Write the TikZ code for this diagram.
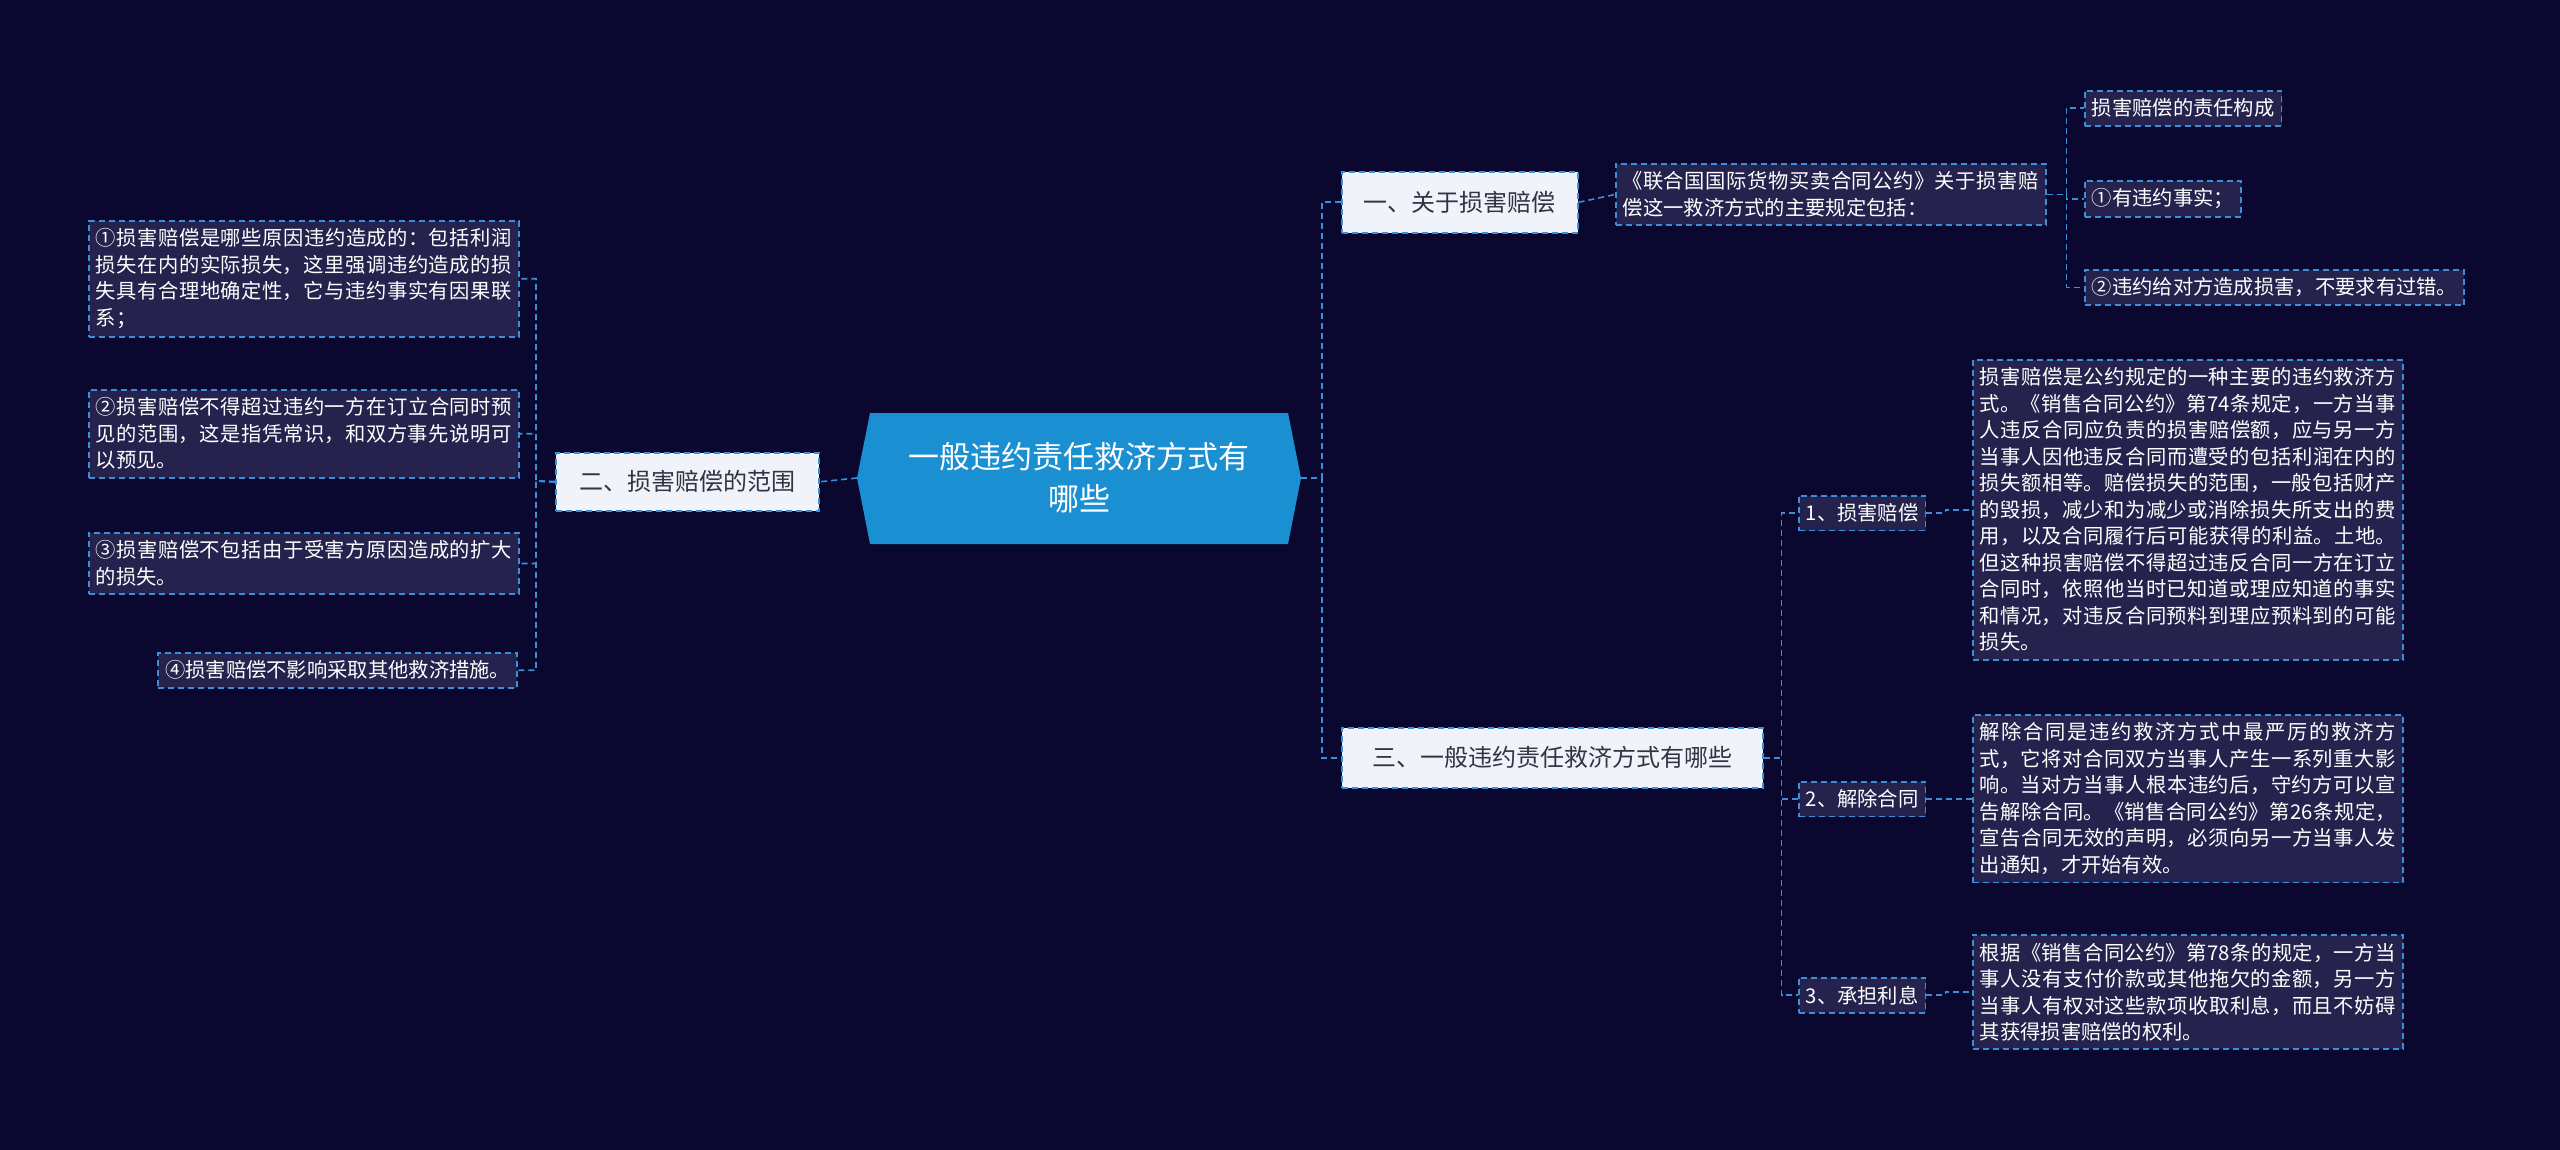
\documentclass[tikz,border=0pt]{standalone}
\usepackage{fontspec}
\setmainfont{Noto Sans CJK SC}
\XeTeXlinebreaklocale "zh"
\XeTeXlinebreakskip=0pt plus 1pt
\begin{document}
\begin{tikzpicture}[x=1pt,y=-1pt,
  lnk/.style={draw=linkc,dashed,line width=1.6pt,dash pattern=on 6pt off 4pt},
  dbox/.style={draw=linkc,dashed,line width=1.6pt,dash pattern=on 6pt off 4pt,fill=boxc,text=white,font=\fontsize{20.3}{26.5}\selectfont,align=justify,inner xsep=7pt,inner ysep=8pt,anchor=north west},
  wbox/.style={draw=linkc,dashed,line width=1.6pt,dash pattern=on 6pt off 4pt,fill=lightc,text=darkt,font=\fontsize{24}{30}\selectfont,inner sep=0pt,anchor=north west}]
\definecolor{bgc}{HTML}{0B0830}
\definecolor{boxc}{HTML}{25234D}
\definecolor{linkc}{HTML}{3A8FD8}
\definecolor{lightc}{HTML}{F1F3FA}
\definecolor{darkt}{HTML}{333344}
\definecolor{rootc}{HTML}{1A8FD2}
\fill[bgc] (0,0) rectangle (2560,1150);
\useasboundingbox (0,0) rectangle (2560,1150);
% root
\fill[rootc] (870,413) -- (1288,413) -- (1301,478) -- (1288,544) -- (870,544) -- (857,478) -- cycle;
\node[text=white,align=center,font=\fontsize{31}{42}\selectfont] (root) at (1079,478) {一般违约责任救济方式有\\哪些};
\coordinate (rl) at (857,478); \coordinate (rr) at (1301,478);
% level 1
\node[wbox,minimum width=263pt,minimum height=58pt] (b2) at (555,452) {};
\node[text=darkt,font=\fontsize{24}{30}\selectfont] at (b2.center) {二、损害赔偿的范围};
\node[wbox,minimum width=236pt,minimum height=61pt] (b1) at (1341,171) {};
\node[text=darkt,font=\fontsize{24}{30}\selectfont] at (b1.center) {一、关于损害赔偿};
\node[wbox,minimum width=421pt,minimum height=60pt] (b3) at (1341,727) {};
\node[text=darkt,font=\fontsize{24}{30}\selectfont] at (b3.center) {三、一般违约责任救济方式有哪些};
% left leaves
\node[dbox,text width=416pt] (l1) at (88,220) {①损害赔偿是哪些原因违约造成的：包括利润损失在内的实际损失，这里强调违约造成的损失具有合理地确定性，它与违约事实有因果联系；};
\node[dbox,text width=416pt] (l2) at (88,389) {②损害赔偿不得超过违约一方在订立合同时预见的范围，这是指凭常识，和双方事先说明可以预见。};
\node[dbox,text width=416pt] (l3) at (88,532) {③损害赔偿不包括由于受害方原因造成的扩大的损失。};
\node[dbox,align=left,anchor=north east] (l4) at (518,652) {④损害赔偿不影响采取其他救济措施。};
% right
\node[dbox,text width=416pt] (c1) at (1615,163) {《联合国国际货物买卖合同公约》关于损害赔偿这一救济方式的主要规定包括：};
\node[dbox,align=left] (d1) at (2084,90) {损害赔偿的责任构成};
\node[dbox,align=left] (d2) at (2084,180) {①有违约事实；};
\node[dbox,align=left] (d3) at (2084,269) {②违约给对方造成损害，不要求有过错。};
\node[dbox,align=left] (s1) at (1798,495) {1、损害赔偿};
\node[dbox,align=left] (s2) at (1798,781) {2、解除合同};
\node[dbox,align=left] (s3) at (1798,977) {3、承担利息};
\node[dbox,text width=416pt] (t1) at (1972,359) {损害赔偿是公约规定的一种主要的违约救济方式。《销售合同公约》第74条规定，一方当事人违反合同应负责的损害赔偿额，应与另一方当事人因他违反合同而遭受的包括利润在内的损失额相等。赔偿损失的范围，一般包括财产的毁损，减少和为减少或消除损失所支出的费用，以及合同履行后可能获得的利益。土地。但这种损害赔偿不得超过违反合同一方在订立合同时，依照他当时已知道或理应知道的事实和情况，对违反合同预料到理应预料到的可能损失。};
\node[dbox,text width=416pt] (t2) at (1972,714) {解除合同是违约救济方式中最严厉的救济方式，它将对合同双方当事人产生一系列重大影响。当对方当事人根本违约后，守约方可以宣告解除合同。《销售合同公约》第26条规定，宣告合同无效的声明，必须向另一方当事人发出通知，才开始有效。};
\node[dbox,text width=416pt] (t3) at (1972,934) {根据《销售合同公约》第78条的规定，一方当事人没有支付价款或其他拖欠的金额，另一方当事人有权对这些款项收取利息，而且不妨碍其获得损害赔偿的权利。};
% links
\draw[lnk] (rl) -- (b2.east);
\foreach \n in {l1,l2,l3,l4} \draw[lnk] (b2.west) -- (536,481) |- (\n.east);
\foreach \n in {b1,b3} \draw[lnk] (rr) -- (1322,478) |- (\n.west);
\draw[lnk] (b1.east) -- (c1.west);
\foreach \n in {d1,d2,d3} \draw[lnk] (c1.east) -- ++(20,0) |- (\n.west);
\foreach \n in {s1,s2,s3} \draw[lnk] (b3.east) -- ++(18,0) |- (\n.west);
\draw[lnk] (s1.east) -- ++(19,0) |- (t1.west);
\draw[lnk] (s2.east) -- ++(19,0) |- (t2.west);
\draw[lnk] (s3.east) -- ++(19,0) |- (t3.west);
\end{tikzpicture}
\end{document}
